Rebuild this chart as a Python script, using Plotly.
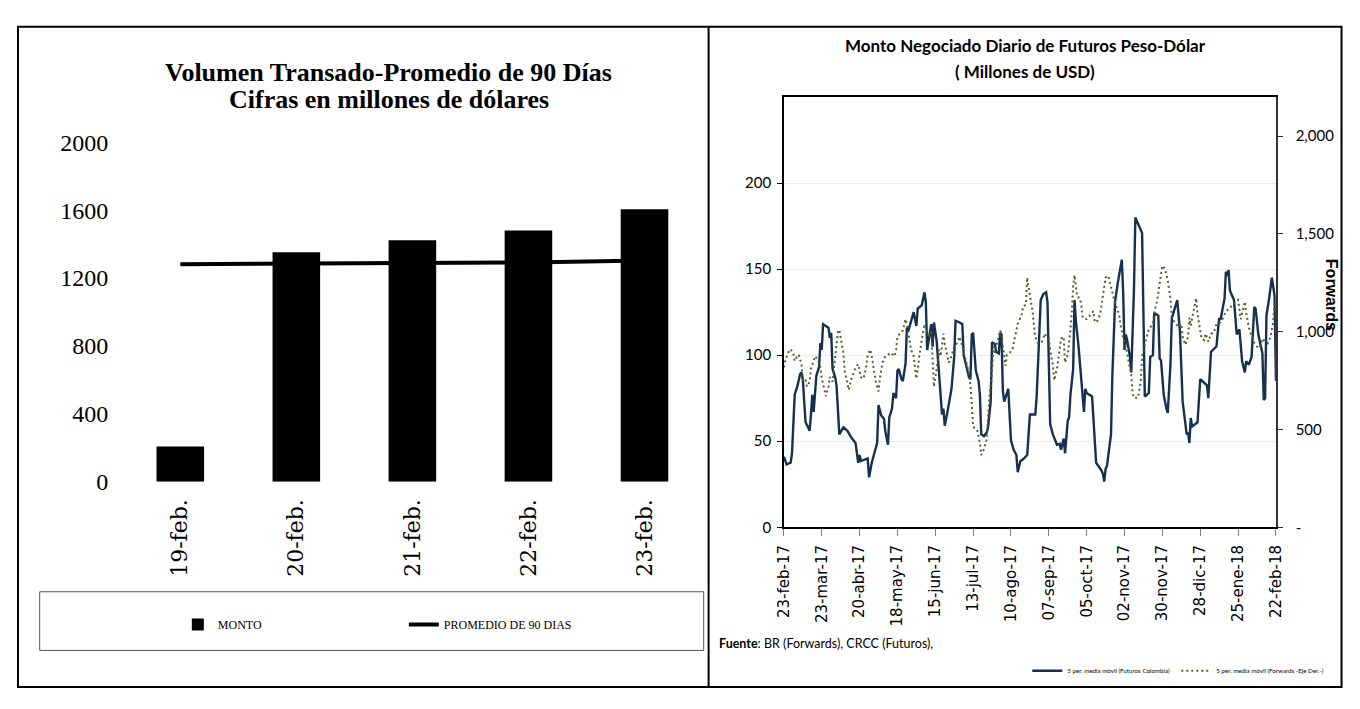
import pandas as pd
import plotly.graph_objects as go

# page offset of the figure (browser body margin) and figure size
OX, OY = 8, 8
FW, FH = 1344, 693

# ---------------- Left chart data ----------------
bar_cats = ["19-feb.", "20-feb.", "21-feb.", "22-feb.", "23-feb."]
monto = [208, 1352, 1423, 1480, 1605]
promedio_90 = [1282, 1286, 1290, 1292, 1304]
left_ticks = [0, 400, 800, 1200, 1600, 2000]

# ---------------- Right chart data ----------------
start_date = "2017-02-23"
# days since 23-feb-17 and value of 5 per. media movil (Futuros Colombia), USD millions
fut_day = [0, 2, 5, 6, 8, 10, 12, 13, 14, 16,
           18, 19, 20, 21, 22, 23, 24, 26, 27, 28,
           29, 31, 33, 34, 35, 36, 38, 39, 41, 44,
           46, 47, 50, 53, 55, 56, 57, 61, 62, 63,
           65, 69, 70, 72, 74, 75, 77, 78, 80, 81,
           83, 84, 85, 87, 88, 90, 91, 92, 94, 96,
           98, 99, 102, 103, 104, 105, 106, 108, 109, 110,
           111, 113, 115, 116, 117, 118, 119, 121, 124, 126,
           127, 130, 132, 133, 134, 137, 138, 139, 140, 142,
           144, 145, 146, 148, 150, 151, 153, 154, 156, 157,
           159, 160, 161, 162, 163, 166, 167, 168, 170, 172,
           173, 175, 177, 180, 182, 186, 187, 189, 190, 192,
           194, 195, 196, 197, 199, 201, 202, 204, 205, 207,
           208, 210, 211, 212, 214, 215, 216, 218, 220, 222,
           223, 224, 228, 231, 235, 236, 237, 238, 239, 242,
           243, 245, 247, 250, 251, 252, 253, 254, 256, 257,
           259, 260, 265, 267, 270, 271, 273, 274, 277, 278,
           279, 281, 283, 284, 286, 287, 291, 293, 295, 297,
           298, 299, 300, 301, 302, 306, 308, 313, 314, 316,
           318, 320, 322, 323, 326, 327, 328, 329, 330, 333,
           335, 337, 339, 341, 342, 344, 346, 348, 349, 351,
           354, 355, 356, 357, 359, 361, 363, 364]
fut_val = [41, 36.5, 37.5, 43, 77, 82, 89, 90, 86, 61,
           58, 56, 65, 77, 67, 80, 88, 93, 107, 103,
           118, 117, 116, 110, 113, 92, 87, 82, 54, 58,
           57, 56, 52, 49, 37.5, 42, 38.5, 40, 40, 29,
           37.5, 49, 71, 65, 63, 56, 48, 64, 69, 78,
           75, 91, 92, 86, 85, 95, 116, 114, 120, 125,
           117, 127, 129, 132, 136.5, 131, 103, 113, 118, 105,
           119, 108.5, 84, 73, 65.5, 69, 59, 67, 80.5, 99,
           120, 119, 118, 100, 97, 87, 86, 112, 113, 91,
           85, 77, 54, 53, 55, 58, 73, 107.5, 106.5, 102,
           101, 113, 112, 79, 73, 80.5, 65.5, 50.5, 45, 42,
           32, 38.5, 39.5, 42, 65.5, 65.5, 76, 114, 132, 135.5,
           136.5, 131, 90, 60, 54, 50.5, 48, 48.5, 45, 51.5,
           43, 62, 64, 77, 92, 132, 120, 105, 88, 67,
           80.5, 78, 76, 37.5, 33, 31, 26.5, 34, 35.5, 54,
           88, 131, 142, 155.5, 136.5, 103, 112, 108.5, 99, 90,
           138.5, 180, 171, 76, 78, 99, 100, 124.5, 123, 98,
           97, 77, 69, 66.5, 95, 121.5, 132, 114, 73, 60,
           54, 55, 49, 63.5, 58.5, 61, 86, 82.5, 75, 102,
           103.5, 105, 121.5, 120.5, 133, 148.5, 146, 149.5, 137.5, 132,
           112, 115, 96.5, 90, 96.5, 94.5, 99, 128, 127, 112,
           101, 74, 75, 123, 133, 145, 134.5, 85]

# days since 23-feb-17 and value of 5 per. media movil (Forwards - right axis)
fwd_day = [0, 1, 3, 5, 7, 8, 10, 11, 13, 14,
           16, 17, 19, 20, 22, 23, 25, 27, 28, 29,
           30, 31, 33, 34, 36, 38, 39, 40, 41, 42,
           44, 45, 47, 48, 50, 52, 53, 55, 56, 57,
           59, 61, 62, 64, 65, 67, 68, 70, 71, 73,
           75, 77, 79, 82, 83, 84, 86, 88, 90, 91,
           93, 94, 96, 97, 98, 99, 100, 102, 104, 105,
           107, 108, 109, 110, 111, 113, 115, 116, 118, 119,
           121, 122, 124, 126, 128, 130, 132, 133, 135, 137,
           138, 139, 140, 143, 145, 146, 148, 150, 151, 152,
           154, 155, 156, 158, 160, 161, 162, 163, 164, 165,
           167, 169, 171, 173, 176, 177, 179, 180, 181, 182,
           184, 185, 186, 188, 189, 191, 193, 194, 196, 197,
           199, 200, 202, 204, 205, 207, 208, 210, 211, 212,
           213, 214, 215, 216, 217, 219, 220, 221, 224, 226,
           229, 230, 232, 234, 236, 238, 240, 242, 245, 247,
           248, 249, 251, 253, 255, 257, 258, 259, 262, 264,
           265, 268, 270, 273, 274, 276, 278, 280, 282, 284,
           286, 287, 289, 292, 294, 295, 297, 299, 300, 301,
           303, 305, 306, 308, 309, 311, 312, 314, 316, 318,
           320, 323, 325, 327, 329, 332, 334, 336, 337, 338,
           340, 341, 342, 344, 346, 348, 350, 352, 354, 356,
           358, 360, 362, 363, 364]
fwd_val = [818, 851, 892, 911, 888, 851, 875, 883, 834, 744,
           752, 719, 744, 810, 851, 875, 859, 818, 760, 736,
           703, 670, 719, 768, 744, 875, 949, 998, 1010, 974,
           892, 801, 727, 703, 760, 801, 818, 834, 793, 768,
           760, 826, 883, 908, 875, 801, 744, 695, 760, 842,
           875, 883, 892, 875, 908, 974, 990, 1007, 1064, 1039,
           957, 908, 875, 810, 760, 801, 867, 957, 1039, 1023,
           990, 965, 1007, 875, 719, 810, 908, 875, 990, 941,
           875, 842, 875, 924, 941, 974, 924, 892, 842, 785,
           727, 629, 514, 498, 432, 369, 399, 448, 547, 662,
           793, 924, 892, 957, 1007, 974, 924, 875, 826, 883,
           892, 908, 974, 1039, 1089, 1130, 1138, 1277, 1228, 1187,
           1105, 1031, 974, 941, 941, 949, 990, 974, 965, 908,
           826, 752, 810, 908, 965, 974, 842, 883, 941, 1007,
           1105, 1236, 1290, 1220, 1179, 1171, 1138, 1072, 1064, 1080,
           1105, 1048, 1056, 1089, 1179, 1277, 1286, 1228, 1146, 1105,
           1089, 1039, 965, 924, 859, 777, 686, 662, 662, 744,
           875, 957, 1015, 1039, 1097, 1154, 1253, 1338, 1320, 1258,
           1171, 1072, 1048, 1023, 1039, 974, 933, 974, 1072, 1031,
           1105, 1171, 1089, 990, 965, 957, 990, 949, 990, 993,
           1039, 1048, 1072, 1105, 1113, 1138, 1154, 1163, 1105, 1064,
           1122, 1154, 1097, 1023, 974, 941, 924, 916, 965, 949,
           941, 974, 1048, 1154, 1120]

x_tick_dates = ["2017-02-23", "2017-03-23", "2017-04-20", "2017-05-18", "2017-06-15",
                "2017-07-13", "2017-08-10", "2017-09-07", "2017-10-05", "2017-11-02",
                "2017-11-30", "2017-12-28", "2018-01-25", "2018-02-22"]
x_tick_labels = ["23-feb-17", "23-mar-17", "20-abr-17", "18-may-17", "15-jun-17",
                 "13-jul-17", "10-ago-17", "07-sep-17", "05-oct-17", "02-nov-17",
                 "30-nov-17", "28-dic-17", "25-ene-18", "22-feb-18"]
fut_ticks = [0, 50, 100, 150, 200]
fwd_ticks = [0, 500, 1000, 1500, 2000]
fwd_tick_labels = ["-", "500", "1,000", "1,500", "2,000"]

base = pd.Timestamp(start_date)
fut_dates = base + pd.to_timedelta(fut_day, unit="D")
fwd_dates = base + pd.to_timedelta(fwd_day, unit="D")


def px(x):
    """screen x (pixels) -> paper fraction"""
    return (x - OX) / FW


def py(y):
    """screen y (pixels) -> paper fraction"""
    return 1 - (y - OY) / FH


fig = go.Figure()

fig.add_trace(go.Bar(
    x=bar_cats, y=monto, name="MONTO", marker=dict(color="black", line=dict(width=0)),
    xaxis="x", yaxis="y", legend="legend"))
fig.add_trace(go.Scatter(
    x=bar_cats, y=promedio_90, name="PROMEDIO DE 90 DIAS", mode="lines",
    line=dict(color="black", width=4), xaxis="x", yaxis="y", legend="legend"))

fig.add_trace(go.Scatter(
    x=fut_dates, y=fut_val, name="5 per. media móvil (Futuros Colombia)", mode="lines",
    line=dict(color="#17304F", width=2.4), xaxis="x2", yaxis="y2", legend="legend2"))
fig.add_trace(go.Scatter(
    x=fwd_dates, y=fwd_val, name="5 per. media móvil (Forwards -Eje Der.-)", mode="lines",
    line=dict(color="#4F6228", width=2, dash="2px,3px"), xaxis="x2", yaxis="y3",
    legend="legend2"))

serif = "Liberation Serif"
sans = "Lato"

fig.update_layout(
    width=FW, height=FH, margin=dict(l=0, r=0, t=0, b=0),
    paper_bgcolor="white", plot_bgcolor="white",
    bargap=0.59,
    xaxis=dict(domain=[px(114.7), px(702.8)], anchor="y", type="category",
               tickangle=-90, tickfont=dict(family="DejaVu Serif", size=22, color="black"),
               showline=False, ticks="", showgrid=False, ticklabelstandoff=12),
    yaxis=dict(domain=[py(486.7), py(134)], range=[0, 2000], tickvals=left_ticks,
               showgrid=False, zeroline=False, showline=False, ticks="",
               tickfont=dict(family=serif, size=24, color="black"), ticklabelstandoff=13),
    xaxis2=dict(domain=[px(785.3), px(1284)], anchor="y2", type="date",
                range=[x_tick_dates[0], x_tick_dates[-1]],
                tickvals=x_tick_dates, ticktext=x_tick_labels, tickangle=-90,
                tickfont=dict(family="DejaVu Sans", size=15, color="black"),
                ticks="outside", ticklen=7, tickcolor="#808080", tickwidth=1,
                showline=True, linecolor="black", linewidth=1.5, mirror=True,
                showgrid=False, zeroline=False, ticklabelstandoff=3),
    yaxis2=dict(domain=[py(534), py(87)], anchor="x2", range=[0, 250], tickvals=fut_ticks,
                showgrid=True, gridcolor="#ececec", gridwidth=1, zeroline=False,
                showline=True, linecolor="black", linewidth=1.5,
                ticks="outside", ticklen=5, tickcolor="black",
                tickfont=dict(family=sans, size=15, color="black"), ticklabelstandoff=3),
    yaxis3=dict(domain=[py(534), py(87)], anchor="x2", overlaying="y2", side="right",
                range=[0, 2200], tickvals=fwd_ticks, ticktext=fwd_tick_labels,
                showgrid=False, zeroline=False, showline=True, linecolor="#333333",
                linewidth=1.5, ticks="outside", ticklen=5, tickcolor="#333333",
                tickfont=dict(family=sans, size=15, color="black"), ticklabelstandoff=10),
    legend=dict(orientation="h", x=px(171), xanchor="left", y=py(635), yanchor="middle",
                entrywidth=181, entrywidthmode="pixels", bgcolor="rgba(0,0,0,0)",
                borderwidth=0, font=dict(family=serif, size=12, color="black"),
                traceorder="normal"),
    legend2=dict(orientation="h", x=px(1032), xanchor="left", y=py(683), yanchor="middle",
                 entrywidth=104, entrywidthmode="pixels", bgcolor="rgba(0,0,0,0)",
                 borderwidth=0, font=dict(family=sans, size=6.2, color="black"),
                 traceorder="normal"),
    showlegend=True,
)

shapes = [
    dict(type="rect", xref="paper", yref="paper", x0=px(9), x1=px(1350.5), y0=py(700), y1=py(14),
         line=dict(color="black", width=2), fillcolor="rgba(0,0,0,0)", layer="below"),
    dict(type="line", xref="paper", yref="paper", x0=px(709), x1=px(709), y0=py(700), y1=py(14),
         line=dict(color="black", width=2)),
    dict(type="rect", xref="paper", yref="paper", x0=px(31), x1=px(704), y0=py(662), y1=py(601),
         line=dict(color="#555555", width=1), fillcolor="rgba(0,0,0,0)", layer="below"),
]
fig.update_layout(shapes=shapes)

annotations = [
    dict(text="<b>Volumen Transado-Promedio de 90 Días</b>", x=px(385), y=py(61),
         font=dict(family=serif, size=26, color="black")),
    dict(text="<b>Cifras en millones de dólares</b>", x=px(385), y=py(90),
         font=dict(family=serif, size=26, color="black")),
    dict(text="<b>Monto Negociado Diario de Futuros Peso-Dólar</b>", x=px(1030), y=py(33),
         font=dict(family=sans, size=17, color="black")),
    dict(text="<b>( Millones de USD)</b>", x=px(1030), y=py(60),
         font=dict(family=sans, size=17, color="black")),
    dict(text="<b>Fuente</b>: BR (Forwards), CRCC (Futuros),", x=px(718), y=py(655),
         xanchor="left", font=dict(family=sans, size=12.5, color="black")),
    dict(text="<b>Forwards</b>", x=px(1351), y=py(292), xanchor="right", textangle=90,
         font=dict(family="Liberation Sans", size=16, color="black")),
]
for a in annotations:
    a.setdefault("xanchor", "center")
    a.update(xref="paper", yref="paper", yanchor="middle", showarrow=False)
fig.update_layout(annotations=annotations)

fig.write_html("out.html", config={"displayModeBar": False})
